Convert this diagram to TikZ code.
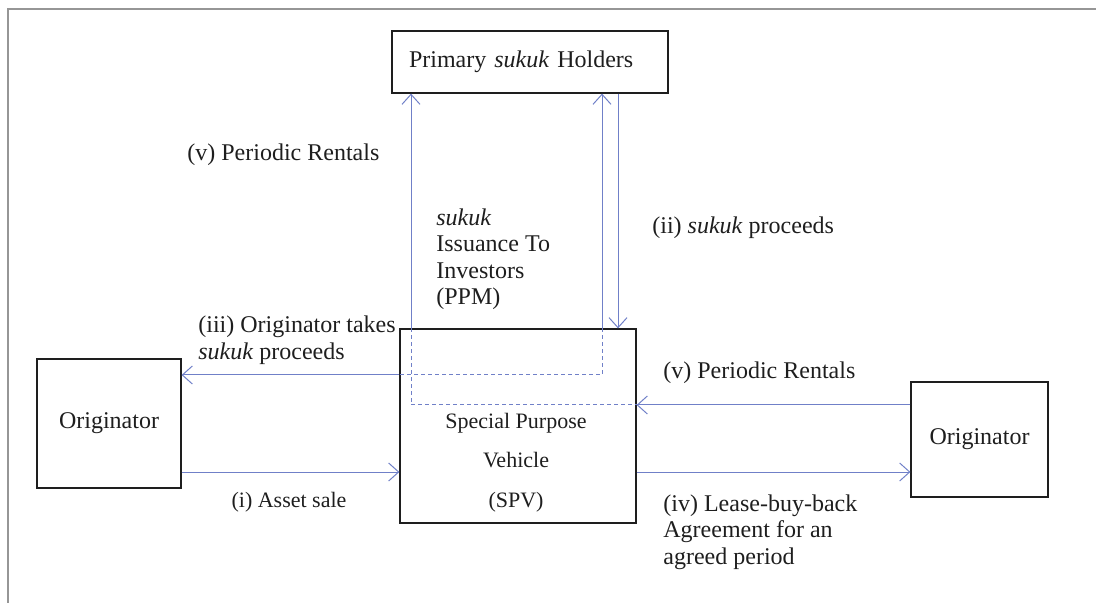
\documentclass[tikz,border=0pt]{standalone}
\usepackage{fontspec}
\setmainfont{Liberation Serif}
\usetikzlibrary{arrows.meta}
\definecolor{flow}{RGB}{112,128,200}
\definecolor{framegray}{RGB}{150,150,150}
\definecolor{ink}{RGB}{30,30,30}
\begin{document}
\begin{tikzpicture}[x=0.5pt,y=-0.5pt,
  box/.style={draw=ink,line width=0.6pt,inner sep=0pt,text=ink,font=\fontsize{12}{14}\selectfont},
  flowline/.style={draw=flow,line width=0.5pt},
  arr/.style={flowline,-{Straight Barb[length=5pt,width=9pt]}},
  dsh/.style={draw=flow,line width=0.5pt,dash pattern=on 2pt off 1.5pt},
  lbl/.style={font=\fontsize{12}{13.25}\selectfont,inner sep=0pt,align=left,text=ink},
  small/.style={font=\fontsize{11}{19.75}\selectfont,inner sep=0pt,align=center,text=ink}]
\useasboundingbox (0,0) rectangle (1096,603);
\draw[framegray,line width=1pt] (1096,9) -- (8,9) -- (8,603);

% boxes
\node[box,minimum width=138pt,minimum height=31pt,text width=121pt,inner xsep=8.5pt,align=left] (holders) at (530,62) {Primary \textit{sukuk} Holders};
\node[box,minimum width=118pt,minimum height=97pt] (spv) at (518,426) {};
\node[small] (spvtext) at (516,462.5) {Special Purpose\\Vehicle\\(SPV)};
\node[box,minimum width=72pt,minimum height=64.5pt] (orgL) at (109,423.5) {Originator};
\node[box,minimum width=68.5pt,minimum height=57.5pt] (orgR) at (979.5,439.5) {Originator};

% reference levels
\coordinate (yIII) at (0,375);
\coordinate (yI) at (0,472);
\coordinate (yV) at (0,405);
\coordinate (xA) at (411,0);
\coordinate (xB) at (602,0);
\coordinate (xC) at (618,0);

% connectors
\draw[arr] (spv.north -| xA) -- (holders.south -| xA);
\draw[arr] (spv.north -| xB) -- (holders.south -| xB);
\draw[arr] (holders.south -| xC) -- (spv.north -| xC);
\draw[arr] (spv.west |- yIII) -- (orgL.east |- yIII);
\draw[arr] (orgL.east |- yI) -- (spv.west |- yI);
\draw[arr] (orgR.west |- yV) -- (spv.east |- yV);
\draw[arr] (spv.east |- yI) -- (orgR.west |- yI);
\draw[dsh] (spv.north -| xA) |- (spv.east |- yV);
\draw[dsh] (spv.north -| xB) |- (spv.west |- yIII);

% labels
\node[lbl,anchor=west] (lv1) at (187,155) {(v) Periodic Rentals};
\node[lbl,anchor=west] (liss) at (436,259) {\textit{sukuk}\\Issuance To\\Investors\\(PPM)};
\node[lbl,anchor=west] (lii) at (652,228) {(ii) \textit{sukuk} proceeds};
\node[lbl,anchor=west] (liii) at (198,340) {(iii) Originator takes\\\textit{sukuk} proceeds};
\node[small,anchor=center] (li) at (289,502) {(i) Asset sale};
\node[lbl,anchor=west] (lv2) at (663,373) {(v) Periodic Rentals};
\node[lbl,anchor=west] (liv) at (663,532) {(iv) Lease-buy-back\\Agreement for an\\agreed period};
\end{tikzpicture}
\end{document}
